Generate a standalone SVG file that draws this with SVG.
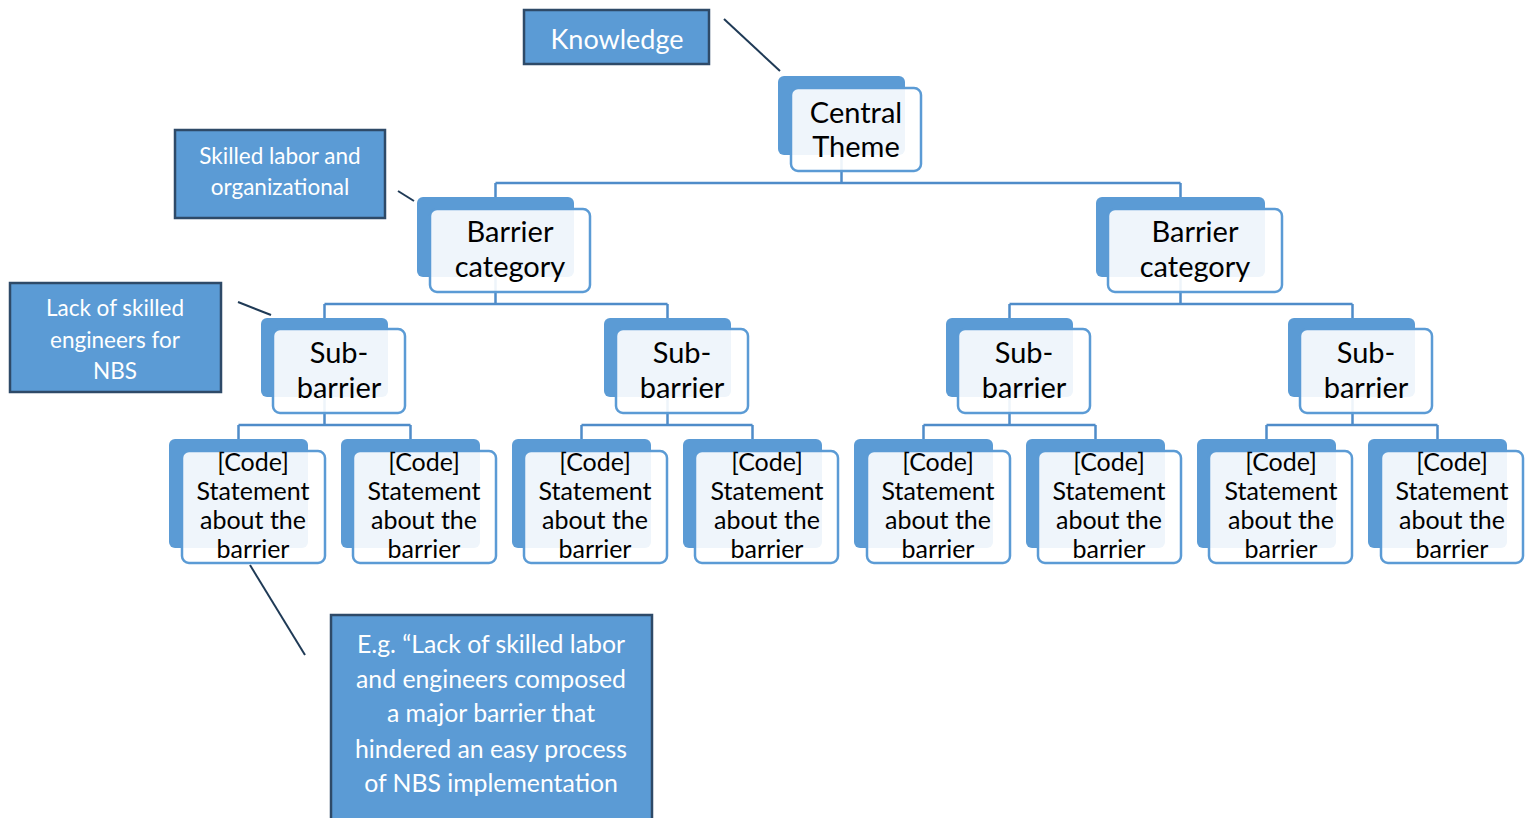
<svg xmlns="http://www.w3.org/2000/svg" width="1531" height="818" viewBox="0 0 1531 818">
<style>
.bk{fill:#5B9BD5}
.fr{fill:#ffffff;fill-opacity:0.9;stroke:#5B9BD5;stroke-width:2.5}
.con{fill:none;stroke:#4F8CC9;stroke-width:2.5}
.ann{fill:#5B9BD5;stroke:#2E4A68;stroke-width:2.5}
.al{stroke:#1F3A56;stroke-width:2}
.t{font-family:Lato,"Liberation Sans",sans-serif;fill:#000;text-anchor:middle}
.w{font-family:Lato,"Liberation Sans",sans-serif;fill:#fff;text-anchor:middle}
.c{font-size:25px}
</style>
<rect width="1531" height="818" fill="#fff"/>
<g id="connectors">
<path class="con" d="M841.5,155V183M495.5,183H1180.5M495.5,183V197M1180.5,183V197"/>
<path class="con" d="M495.5,277V304M324.5,304H667.5M324.5,304V318M667.5,304V318"/>
<path class="con" d="M1180.5,277V304M1009.5,304H1352.5M1009.5,304V318M1352.5,304V318"/>
<path class="con" d="M324.5,397V425M238.5,425H410.5M238.5,425V439M410.5,425V439"/>
<path class="con" d="M667.5,397V425M581.5,425H752.5M581.5,425V439M752.5,425V439"/>
<path class="con" d="M1009.5,397V425M923.5,425H1095.5M923.5,425V439M1095.5,425V439"/>
<path class="con" d="M1352.5,397V425M1266.5,425H1437.5M1266.5,425V439M1437.5,425V439"/>
<line class="al" x1="724" y1="19" x2="780" y2="71"/>
<line class="al" x1="398" y1="191" x2="414" y2="201"/>
<line class="al" x1="238" y1="302" x2="271" y2="315"/>
<line class="al" x1="250" y1="565" x2="305" y2="655"/>
</g>
<g id="knowledge"><rect class="ann" x="524" y="10" width="185" height="54"/><text class="w" x="617" y="49" font-size="27">Knowledge</text></g>
<g id="skilled"><rect class="ann" x="175" y="130" width="210" height="88"/><text class="w" x="280" y="164" font-size="22.5">Skilled labor and</text><text class="w" x="280" y="195" font-size="22.5">organizational</text></g>
<g id="lack"><rect class="ann" x="10" y="283" width="211" height="109"/><text class="w" x="115" y="316" font-size="22.5">Lack of skilled</text><text class="w" x="115" y="348" font-size="22.5">engineers for</text><text class="w" x="115" y="379" font-size="22.5">NBS</text></g>
<g id="example"><rect class="ann" x="331" y="615" width="321" height="210"/><text class="w" font-size="24.8"><tspan x="491" y="653">E.g. “Lack of skilled labor</tspan><tspan x="491" y="688">and engineers composed</tspan><tspan x="491" y="722">a major barrier that</tspan><tspan x="491" y="758">hindered an easy process</tspan><tspan x="491" y="792">of NBS implementation</tspan></text></g>
<g id="central"><rect class="bk" x="778" y="76" width="127" height="79" rx="6"/><rect class="fr" x="791" y="88" width="130" height="83" rx="7"/><text class="t" font-size="29"><tspan x="856" y="123">Central</tspan><tspan x="856" y="157">Theme</tspan></text></g>
<g id="cat1"><rect class="bk" x="417" y="197" width="157" height="80" rx="6"/><rect class="fr" x="430" y="209" width="160" height="83" rx="7"/><text class="t" font-size="29"><tspan x="510" y="242">Barrier</tspan><tspan x="510" y="277">category</tspan></text></g>
<g id="cat2"><rect class="bk" x="1096" y="197" width="169" height="80" rx="6"/><rect class="fr" x="1108" y="209" width="174" height="83" rx="7"/><text class="t" font-size="29"><tspan x="1195" y="242">Barrier</tspan><tspan x="1195" y="277">category</tspan></text></g>
<g id="sub1"><rect class="bk" x="261" y="318" width="127" height="79" rx="6"/><rect class="fr" x="273" y="329" width="132" height="84" rx="7"/><text class="t" font-size="29"><tspan x="339" y="363">Sub-</tspan><tspan x="339" y="398">barrier</tspan></text></g>
<g id="sub2"><rect class="bk" x="604" y="318" width="127" height="79" rx="6"/><rect class="fr" x="616" y="329" width="132" height="84" rx="7"/><text class="t" font-size="29"><tspan x="682" y="363">Sub-</tspan><tspan x="682" y="398">barrier</tspan></text></g>
<g id="sub3"><rect class="bk" x="946" y="318" width="127" height="79" rx="6"/><rect class="fr" x="958" y="329" width="132" height="84" rx="7"/><text class="t" font-size="29"><tspan x="1024" y="363">Sub-</tspan><tspan x="1024" y="398">barrier</tspan></text></g>
<g id="sub4"><rect class="bk" x="1288" y="318" width="127" height="79" rx="6"/><rect class="fr" x="1300" y="329" width="132" height="84" rx="7"/><text class="t" font-size="29"><tspan x="1366" y="363">Sub-</tspan><tspan x="1366" y="398">barrier</tspan></text></g>
<g id="code1"><rect class="bk" x="169" y="439" width="139" height="109" rx="6"/><rect class="fr" x="182" y="451" width="143" height="112" rx="7"/><text class="t c"><tspan x="253" y="471">[Code]</tspan><tspan x="253" y="500">Statement</tspan><tspan x="253" y="529">about the</tspan><tspan x="253" y="558">barrier</tspan></text></g>
<g id="code2"><rect class="bk" x="341" y="439" width="139" height="109" rx="6"/><rect class="fr" x="353" y="451" width="143" height="112" rx="7"/><text class="t c"><tspan x="424" y="471">[Code]</tspan><tspan x="424" y="500">Statement</tspan><tspan x="424" y="529">about the</tspan><tspan x="424" y="558">barrier</tspan></text></g>
<g id="code3"><rect class="bk" x="512" y="439" width="139" height="109" rx="6"/><rect class="fr" x="524" y="451" width="143" height="112" rx="7"/><text class="t c"><tspan x="595" y="471">[Code]</tspan><tspan x="595" y="500">Statement</tspan><tspan x="595" y="529">about the</tspan><tspan x="595" y="558">barrier</tspan></text></g>
<g id="code4"><rect class="bk" x="683" y="439" width="139" height="109" rx="6"/><rect class="fr" x="695" y="451" width="143" height="112" rx="7"/><text class="t c"><tspan x="767" y="471">[Code]</tspan><tspan x="767" y="500">Statement</tspan><tspan x="767" y="529">about the</tspan><tspan x="767" y="558">barrier</tspan></text></g>
<g id="code5"><rect class="bk" x="854" y="439" width="139" height="109" rx="6"/><rect class="fr" x="867" y="451" width="143" height="112" rx="7"/><text class="t c"><tspan x="938" y="471">[Code]</tspan><tspan x="938" y="500">Statement</tspan><tspan x="938" y="529">about the</tspan><tspan x="938" y="558">barrier</tspan></text></g>
<g id="code6"><rect class="bk" x="1026" y="439" width="139" height="109" rx="6"/><rect class="fr" x="1038" y="451" width="143" height="112" rx="7"/><text class="t c"><tspan x="1109" y="471">[Code]</tspan><tspan x="1109" y="500">Statement</tspan><tspan x="1109" y="529">about the</tspan><tspan x="1109" y="558">barrier</tspan></text></g>
<g id="code7"><rect class="bk" x="1197" y="439" width="139" height="109" rx="6"/><rect class="fr" x="1209" y="451" width="143" height="112" rx="7"/><text class="t c"><tspan x="1281" y="471">[Code]</tspan><tspan x="1281" y="500">Statement</tspan><tspan x="1281" y="529">about the</tspan><tspan x="1281" y="558">barrier</tspan></text></g>
<g id="code8"><rect class="bk" x="1368" y="439" width="139" height="109" rx="6"/><rect class="fr" x="1381" y="451" width="142" height="112" rx="7"/><text class="t c"><tspan x="1452" y="471">[Code]</tspan><tspan x="1452" y="500">Statement</tspan><tspan x="1452" y="529">about the</tspan><tspan x="1452" y="558">barrier</tspan></text></g>
</svg>
